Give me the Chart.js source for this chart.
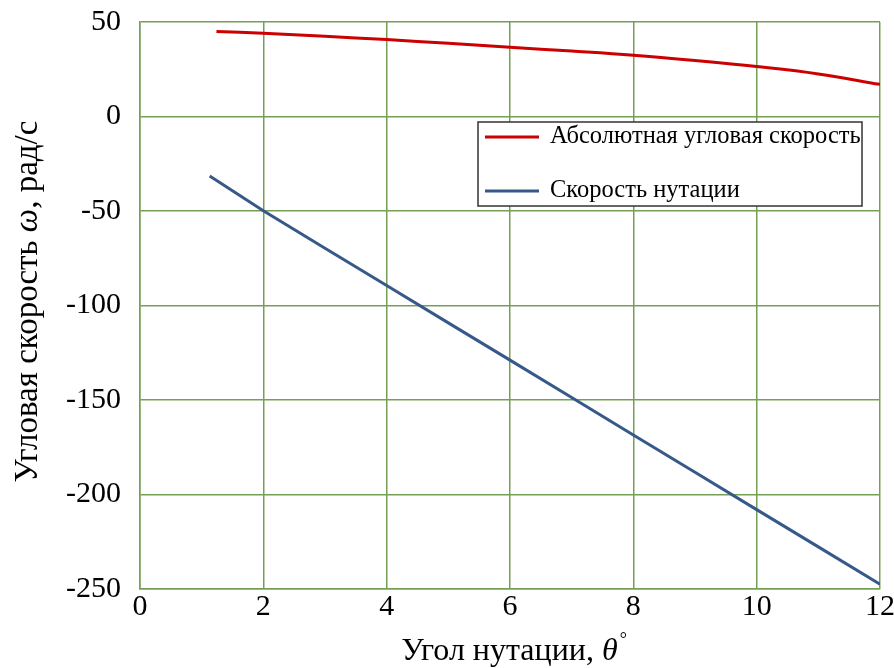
<!DOCTYPE html>
<html>
<head>
<meta charset="utf-8">
<script src="https://cdn.jsdelivr.net/npm/chart.js@4/dist/chart.umd.min.js"></script>
<style>
  html, body { margin: 0; padding: 0; background: #fff; }
  #wrap { width: 894px; height: 668px; }
</style>
</head>
<body>
<div id="wrap"><canvas id="c" width="894" height="668"></canvas></div>
<script>
// Nutation angle θ (degrees) and the two angular speeds (rad/s)
const absAngles = [1.24, 2, 3, 4, 5, 6, 7, 8, 9, 10, 11, 12];
const absoluteSpeed = [45.0, 44.0, 42.4, 40.7, 38.7, 36.6, 34.6, 32.4, 29.6, 26.4, 22.5, 17.0];

const nutAngles = [1.13, 2, 3, 4, 5, 6, 7, 8, 9, 10, 11, 12];
const nutationSpeed = [-31.5, -49.9, -69.7, -89.4, -109.2, -128.9, -148.7, -168.5, -188.2, -208.0, -227.7, -247.5];

const xTicks = [0, 2, 4, 6, 8, 10, 12];
const yTicks = [50, 0, -50, -100, -150, -200, -250];

const seriesNames = ['Абсолютная угловая скорость', 'Скорость нутации'];
const xTitle = ['Угол нутации, ', 'θ', '°'];
const yTitle = ['Угловая скорость ', 'ω', ', рад/с'];

const SERIF = '"Liberation Serif", "Times New Roman", serif';
const GRID = '#74a055';
const RED = '#cc0000';
const BLUE = '#37598a';

const toPoints = (xs, ys) => xs.map((x, i) => ({ x, y: ys[i] }));

// Legend box inside the plot plus the axis titles with italic symbols
const decorations = {
  id: 'decorations',
  afterDraw(chart) {
    const { ctx, chartArea: a } = chart;
    ctx.save();

    // legend
    const bx = a.left + 338, by = a.top + 100, bw = 384, bh = 84;
    ctx.fillStyle = '#fff';
    ctx.fillRect(bx, by, bw, bh);
    ctx.strokeStyle = '#333';
    ctx.lineWidth = 1.5;
    ctx.strokeRect(bx, by, bw, bh);
    ctx.font = '24.5px ' + SERIF;
    ctx.textBaseline = 'middle';
    ctx.textAlign = 'left';
    chart.data.datasets.forEach((ds, i) => {
      const cy = by + 15 + i * 54;
      ctx.strokeStyle = ds.borderColor;
      ctx.lineWidth = 3;
      ctx.beginPath();
      ctx.moveTo(bx + 7, cy);
      ctx.lineTo(bx + 61, cy);
      ctx.stroke();
      ctx.fillStyle = '#000';
      ctx.fillText(ds.label, bx + 72, cy);
    });

    ctx.fillStyle = '#000';
    ctx.textBaseline = 'middle';
    ctx.textAlign = 'left';

    // x title: degree mark drawn small and raised
    {
      const fonts = ['32px ' + SERIF, 'italic 32px ' + SERIF, '18px ' + SERIF];
      const widths = xTitle.map((p, i) => { ctx.font = fonts[i]; return ctx.measureText(p).width; });
      const total = widths.reduce((s, w) => s + w, 0);
      let x = (a.left + a.right) / 2 - total / 2 + 3;
      const y = 652;
      xTitle.forEach((p, i) => {
        ctx.font = fonts[i];
        ctx.fillText(p, x + (i === 2 ? 2 : 0), i === 2 ? y - 12 : y);
        x += widths[i];
      });
    }

    // y title, rotated
    {
      const fonts = ['33px ' + SERIF, 'italic 33px ' + SERIF, '33px ' + SERIF];
      ctx.translate(28, (a.top + a.bottom) / 2 - 4);
      ctx.rotate(-Math.PI / 2);
      const widths = yTitle.map((p, i) => { ctx.font = fonts[i]; return ctx.measureText(p).width; });
      const total = widths.reduce((s, w) => s + w, 0);
      let x = -total / 2;
      yTitle.forEach((p, i) => {
        ctx.font = fonts[i];
        ctx.fillText(p, x, 0);
        x += widths[i];
      });
    }

    ctx.restore();
  }
};

new Chart(document.getElementById('c'), {
  type: 'scatter',
  data: {
    datasets: [
      {
        label: seriesNames[0],
        data: toPoints(absAngles, absoluteSpeed),
        showLine: true,
        borderColor: RED,
        backgroundColor: RED,
        borderWidth: 3,
        pointRadius: 0,
        tension: 0.4
      },
      {
        label: seriesNames[1],
        data: toPoints(nutAngles, nutationSpeed),
        showLine: true,
        borderColor: BLUE,
        backgroundColor: BLUE,
        borderWidth: 3,
        pointRadius: 0
      }
    ]
  },
  options: {
    responsive: false,
    animation: false,
    devicePixelRatio: 1,
    layout: { padding: { top: 22, right: 14, left: 0, bottom: 0 } },
    plugins: { legend: { display: false }, tooltip: { enabled: false } },
    scales: {
      x: {
        type: 'linear',
        min: xTicks[0],
        max: xTicks[xTicks.length - 1],
        afterBuildTicks: s => { s.ticks = xTicks.map(v => ({ value: v })); },
        ticks: { color: '#000', font: { family: SERIF, size: 30 }, padding: 0, maxRotation: 0 },
        grid: { color: GRID, lineWidth: 1.5, drawTicks: false },
        border: { color: GRID, width: 1.5 },
        afterFit: s => { s.height = 79; s.paddingLeft = 0; s.paddingRight = 0; }
      },
      y: {
        min: yTicks[yTicks.length - 1],
        max: yTicks[0],
        afterBuildTicks: s => { s.ticks = yTicks.slice().reverse().map(v => ({ value: v })); },
        ticks: { color: '#000', font: { family: SERIF, size: 30 }, padding: 19 },
        grid: { color: GRID, lineWidth: 1.5, drawTicks: false },
        border: { color: GRID, width: 1.5 },
        afterFit: s => { s.width = 140; s.paddingTop = 0; s.paddingBottom = 0; }
      }
    }
  },
  plugins: [decorations]
});
</script>
</body>
</html>
